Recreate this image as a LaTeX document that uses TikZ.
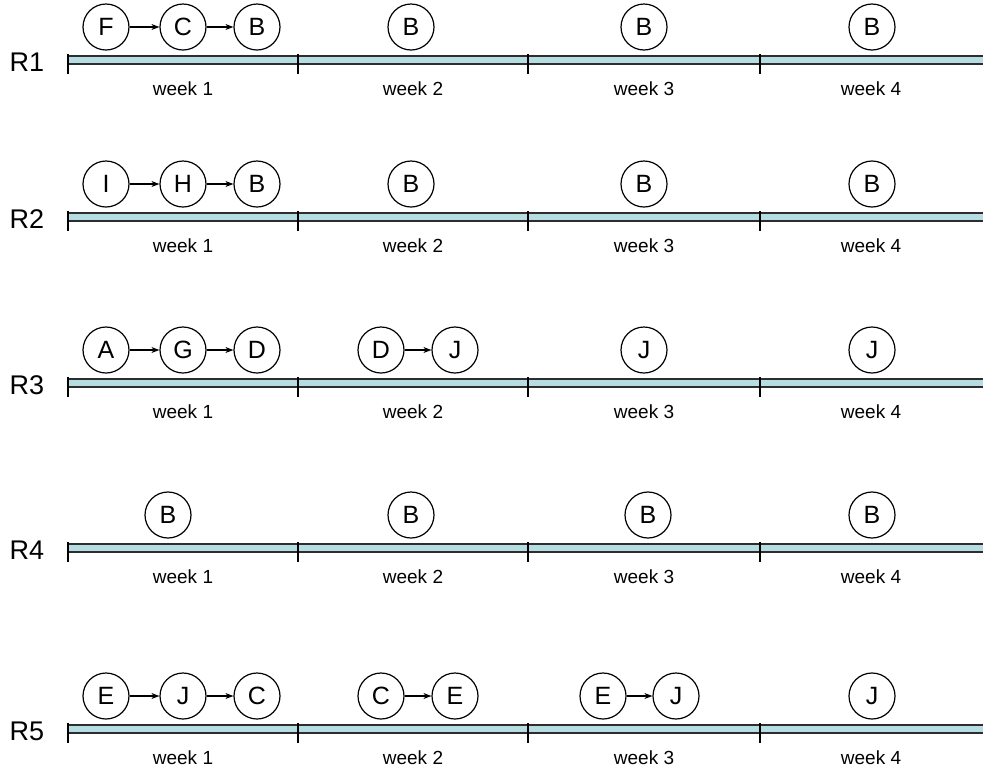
\documentclass[tikz,border=0pt]{standalone}
\usepackage{fontspec}
\setmainfont{Liberation Sans}
\usetikzlibrary{positioning,arrows.meta}
\definecolor{barfill}{RGB}{182,222,226}
\definecolor{barline}{RGB}{45,45,45}

\begin{document}
\begin{tikzpicture}[x=1pt,y=-1pt,
    st/.style={circle,draw,line width=1.2pt,minimum size=46pt,inner sep=0pt,
      font=\fontsize{25}{25}\selectfont},
    nx/.style={-{Stealth[length=8pt,width=6pt]},line width=1.1pt},
    wk/.style={font=\fontsize{19}{19}\selectfont},
    rl/.style={font=\fontsize{27}{27}\selectfont}]
  \useasboundingbox (0,0) rectangle (983,772);
  % timelines
  \foreach \r/\y in {1/60,2/217,3/383,4/548,5/729} {
    \fill[barfill] (68,\y-4) rectangle (983,\y+4);
    \draw[line width=1.3pt,barline] (68,\y-4) -- (983,\y-4) (68,\y+4) -- (983,\y+4);
    \foreach \x in {68,298,528,760} \draw[line width=1.2pt] (\x,\y-6) -- (\x,\y+14);
    \node[rl] (R\r) at (27,\y+2) {R\r};
    \foreach \w/\x in {1/183,2/413,3/644,4/871} \node[wk] (W\r\w) at (\x,\y+29) {week \w};
  }
  % R1
  \node[st] (r1F) at (106,27) {F};
  \node[st] (r1C) at (183,27) {C};
  \node[st] (r1B) at (257,27) {B};
  \node[st] (r1w2) at (411,27) {B};
  \node[st] (r1w3) at (644,27) {B};
  \node[st] (r1w4) at (872,27) {B};
  \draw[nx] (r1F) -- (r1C);
  \draw[nx] (r1C) -- (r1B);
  % R2
  \node[st] (r2I) at (106,184) {I};
  \node[st] (r2H) at (183,184) {H};
  \node[st] (r2B) at (257,184) {B};
  \node[st] (r2w2) at (411,184) {B};
  \node[st] (r2w3) at (644,184) {B};
  \node[st] (r2w4) at (872,184) {B};
  \draw[nx] (r2I) -- (r2H);
  \draw[nx] (r2H) -- (r2B);
  % R3
  \node[st] (r3A) at (106,350) {A};
  \node[st] (r3G) at (183,350) {G};
  \node[st] (r3D) at (257,350) {D};
  \node[st] (r3D2) at (381,350) {D};
  \node[st] (r3J2) at (455,350) {J};
  \node[st] (r3w3) at (644,350) {J};
  \node[st] (r3w4) at (872,350) {J};
  \draw[nx] (r3A) -- (r3G);
  \draw[nx] (r3G) -- (r3D);
  \draw[nx] (r3D2) -- (r3J2);
  % R4
  \node[st] (r4w1) at (168,515) {B};
  \node[st] (r4w2) at (411,515) {B};
  \node[st] (r4w3) at (648,515) {B};
  \node[st] (r4w4) at (872,515) {B};
  % R5
  \node[st] (r5E) at (106,696) {E};
  \node[st] (r5J) at (183,696) {J};
  \node[st] (r5C) at (257,696) {C};
  \node[st] (r5C2) at (381,696) {C};
  \node[st] (r5E2) at (455,696) {E};
  \node[st] (r5E3) at (603,696) {E};
  \node[st] (r5J3) at (676,696) {J};
  \node[st] (r5w4) at (872,696) {J};
  \draw[nx] (r5E) -- (r5J);
  \draw[nx] (r5J) -- (r5C);
  \draw[nx] (r5C2) -- (r5E2);
  \draw[nx] (r5E3) -- (r5J3);
\end{tikzpicture}
\end{document}
